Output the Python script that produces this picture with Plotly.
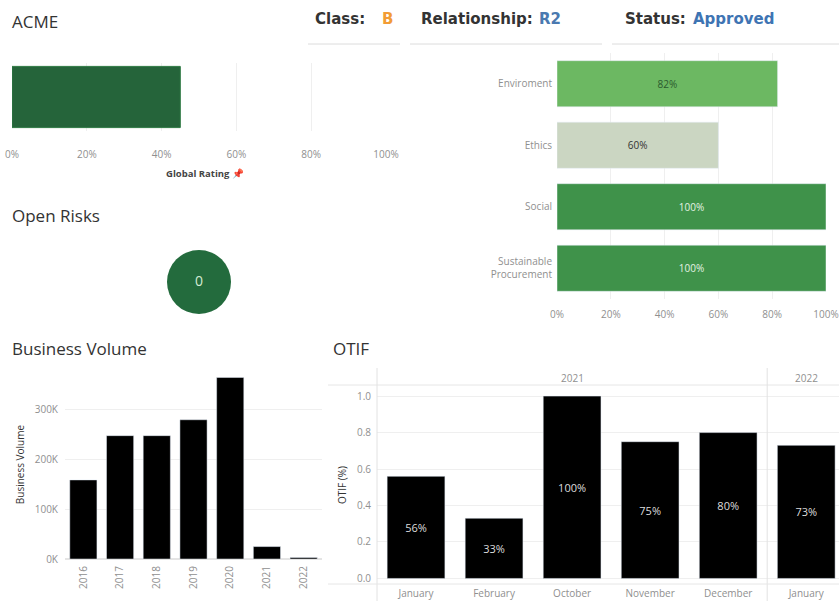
import plotly.graph_objects as go

W, H = 839, 601
def px(x): return x / W
def py(y): return 1 - y / H

# ---------------- data ----------------
company = "ACME"
class_value = "B"
relationship_value = "R2"
status_value = "Approved"

global_rating = [0.45]
global_label = ["Global Rating"]

esg_categories = ["Enviroment", "Ethics", "Social", "Sustainable<br>Procurement"]
esg_values = [0.82, 0.60, 1.00, 1.00]
esg_colors = ["#6cb862", "#cbd6c2", "#3f924a", "#3f924a"]
esg_text_colors = ["#2b5a2e", "#333333", "#e3f2e3", "#e3f2e3"]

open_risks = [0]

bv_years = ["2016", "2017", "2018", "2019", "2020", "2021", "2022"]
bv_values = [159000, 248000, 248000, 280000, 365000, 25000, 3000]
bv_ticks = [0, 100000, 200000, 300000]
bv_ticktext = ["0K", "100K", "200K", "300K"]

otif_months = ["January", "February", "October", "November", "December", "January"]
otif_years = ["2021", "2021", "2021", "2021", "2021", "2022"]
otif_values = [0.56, 0.33, 1.00, 0.75, 0.80, 0.73]

FONT = "Open Sans"
HFONT = "DejaVu Sans"
GRID = "#efefef"
TICK = "#8f8f8f"

fig = go.Figure()

fig.add_trace(go.Bar(x=global_rating, y=global_label, orientation="h",
                     marker=dict(color="#25643a", line=dict(color="#2f7a44", width=1)),
                     width=0.9, xaxis="x", yaxis="y", hoverinfo="x"))

fig.add_trace(go.Bar(x=esg_values, y=esg_categories, orientation="h",
                     marker=dict(color=esg_colors),
                     text=[f"{v:.0%}" for v in esg_values],
                     textposition="inside", insidetextanchor="middle",
                     textfont=dict(color=esg_text_colors, size=10, family=FONT),
                     width=0.75, xaxis="x2", yaxis="y2"))

fig.add_trace(go.Bar(x=bv_years, y=bv_values, marker=dict(color="#000000"),
                     xaxis="x3", yaxis="y3"))

otif_idx = list(range(len(otif_values)))
fig.add_trace(go.Bar(x=otif_idx, y=otif_values, marker=dict(color="#000000"),
                     text=[f"{v:.0%}" for v in otif_values],
                     textposition="inside", insidetextanchor="middle",
                     textfont=dict(color="#dddddd", size=11, family=FONT),
                     xaxis="x4", yaxis="y4"))

fig.add_trace(go.Scatter(x=["Open Risks"], y=open_risks, mode="markers+text",
                         marker=dict(size=64, color="#236b3d"), cliponaxis=False,
                         text=[str(v) for v in open_risks], textposition="middle center",
                         textfont=dict(color="#d4ecd4", size=14, family=FONT),
                         xaxis="x5", yaxis="y5"))

tickfont = dict(size=10, color=TICK, family=FONT)

fig.update_layout(
    width=W, height=H, margin=dict(l=0, r=0, t=0, b=0, autoexpand=False),
    paper_bgcolor="white", plot_bgcolor="white",
    showlegend=False, bargap=0.26,
    font=dict(family=FONT, color="#333"),
    uniformtext=dict(minsize=8, mode="show"),
    xaxis=dict(domain=[px(12), px(386)], anchor="y", range=[0, 1.0], automargin=False,
               tickvals=[0, 0.2, 0.4, 0.6, 0.8, 1.0], tickformat=".0%",
               showgrid=True, gridcolor=GRID, zeroline=False, showline=False,
               tickfont=tickfont, ticklabelstandoff=16, ticklabeloverflow="allow"),
    yaxis=dict(domain=[py(131), py(63)], anchor="x", showticklabels=False, automargin=False,
               showgrid=False, zeroline=False),
    xaxis2=dict(domain=[px(557), px(826)], anchor="y2", range=[0, 1.0], automargin=False,
                tickvals=[0, 0.2, 0.4, 0.6, 0.8, 1.0], tickformat=".0%",
                showgrid=True, gridcolor=GRID, zeroline=False, showline=False,
                tickfont=tickfont, ticklabelstandoff=8, ticklabeloverflow="allow"),
    yaxis2=dict(domain=[py(299), py(53)], anchor="x2", autorange="reversed", automargin=False,
                showgrid=False, zeroline=False, tickfont=tickfont,
                ticklabelstandoff=4),
    xaxis3=dict(domain=[px(65), px(322)], anchor="y3", tickangle=-90, automargin=False,
                showgrid=False, zeroline=False, showline=False,
                tickfont=tickfont, ticklabelstandoff=4),
    yaxis3=dict(domain=[py(559), py(370)], anchor="x3", range=[0, 380000], automargin=False,
                tickvals=bv_ticks, ticktext=bv_ticktext,
                showgrid=True, gridcolor=GRID, zeroline=True, zerolinecolor="#e4e4e4",
                tickfont=tickfont, ticklabelstandoff=6,
                title=dict(text="Business Volume", font=dict(size=10, color="#333"), standoff=8)),
    xaxis4=dict(domain=[px(377), 1.0], anchor="y4", range=[-0.5, 5.42], automargin=False,
                tickvals=otif_idx, ticktext=otif_months,
                showgrid=False, zeroline=False, showline=False,
                tickfont=tickfont, ticklabelstandoff=3, ticklabeloverflow="allow"),
    yaxis4=dict(domain=[py(583), py(387)], anchor="x4", range=[-0.025, 1.05], automargin=False,
                tickvals=[0, 0.2, 0.4, 0.6, 0.8, 1.0], tickformat=".1f",
                showgrid=True, gridcolor=GRID, zeroline=False,
                tickfont=tickfont, ticklabelstandoff=5,
                title=dict(text="OTIF (%)", font=dict(size=10, color="#333"), standoff=8)),
    xaxis5=dict(domain=[px(159), px(239)], anchor="y5", visible=False, automargin=False),
    yaxis5=dict(domain=[py(322), py(242)], anchor="x5", range=[-1, 1], visible=False, automargin=False),
)

ann = []
def text(x, y, s, size=16, color="#333", xanchor="left", bold=False, family=FONT):
    ann.append(dict(x=px(x), y=py(y), xref="paper", yref="paper", text=(f"<b>{s}</b>" if bold else s),
                    showarrow=False, xanchor=xanchor, yanchor="middle",
                    font=dict(size=size, color=color, family=family)))

text(10, 22, company, 17, "#333")
text(313, 19, "Class:", 15, "#333", bold=True, family=HFONT)
text(380, 19, class_value, 15, "#f29c35", bold=True, family=HFONT)
text(419, 19, "Relationship:", 15, "#333", bold=True, family=HFONT)
text(537, 19, relationship_value, 15, "#4a79b0", bold=True, family=HFONT)
text(623, 19, "Status:", 15, "#333", bold=True, family=HFONT)
text(691, 19, status_value, 15, "#3e74b3", bold=True, family=HFONT)
text(205, 174, "Global Rating 📌", 9.5, "#444", xanchor="center", bold=True)
text(10, 215, "Open Risks", 17, "#333")
text(10, 348, "Business Volume", 17, "#333")
text(331, 348, "OTIF", 17, "#333")
ann.append(dict(x=2, y=py(378), xref="x4", yref="paper", text=otif_years[0], showarrow=False,
                font=dict(size=10, color=TICK, family=FONT)))
ann.append(dict(x=5, y=py(378), xref="x4", yref="paper", text=otif_years[5], showarrow=False,
                font=dict(size=10, color=TICK, family=FONT)))
fig.update_layout(annotations=ann)

shapes = []
for x0, x1 in [(308, 400), (410, 602), (612, 839)]:
    shapes.append(dict(type="line", xref="paper", yref="paper", x0=px(x0), x1=px(x1),
                       y0=py(44), y1=py(44), line=dict(color="#dcdcdc", width=1)))
shapes.append(dict(type="line", xref="paper", yref="paper", x0=px(328), x1=1,
                   y0=py(385), y1=py(385), line=dict(color="#e6e6e6", width=1)))
shapes.append(dict(type="line", xref="paper", yref="paper", x0=px(377), x1=px(377),
                   y0=py(368), y1=0, line=dict(color="#e2e2e2", width=1)))
shapes.append(dict(type="line", xref="x4", yref="paper", x0=4.5, x1=4.5,
                   y0=py(368), y1=0, line=dict(color="#e2e2e2", width=1)))
shapes.append(dict(type="line", xref="paper", yref="paper", x0=px(328), x1=1,
                   y0=py(584), y1=py(584), line=dict(color="#e6e6e6", width=1)))
fig.update_layout(shapes=shapes)

fig.write_html("out.html", config={"displayModeBar": False},
               post_script="document.body.style.margin='0';document.body.style.overflow='hidden';")
